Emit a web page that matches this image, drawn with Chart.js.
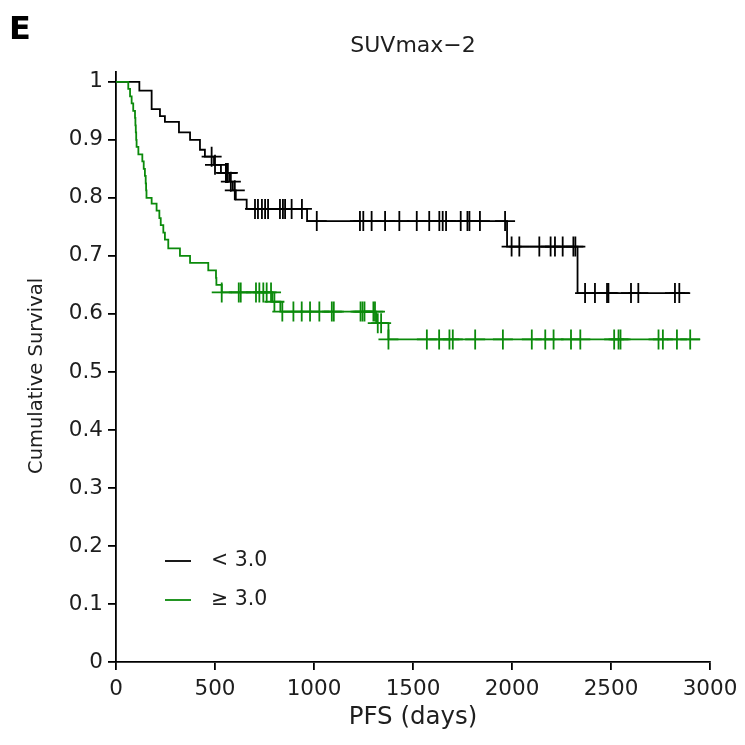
<!DOCTYPE html>
<html>
<head>
<meta charset="utf-8">
<script src="https://cdn.jsdelivr.net/npm/chart.js@4.4.1/dist/chart.umd.min.js"></script>
<style>
  html, body { margin: 0; padding: 0; background: #fff; }
  #wrap { width: 745px; height: 745px; }
</style>
</head>
<body>
<div id="wrap"><canvas id="kmChart" width="745" height="745"></canvas></div>
<script>
// panel text
const panelLetter = "E";
const chartTitle = "SUVmax\u22122";
const xTitle = "PFS (days)";
const yTitle = "Cumulative Survival";
const groupLabels = ["< 3.0", "\u2265 3.0"];

// axis ticks
const xTicks = [0, 500, 1000, 1500, 2000, 2500, 3000];
const yTicks = [0, 0.1, 0.2, 0.3, 0.4, 0.5, 0.6, 0.7, 0.8, 0.9, 1];
const yTickLabels = ["0", "0.1", "0.2", "0.3", "0.4", "0.5", "0.6", "0.7", "0.8", "0.9", "1"];

// SUVmax-2 < 3.0 (black): event times (days) and survival after each drop
const lowEventTimes = [118, 180, 222, 247, 318, 374, 424, 449, 495, 530, 575, 590, 605, 660, 965, 1975, 2331];
const lowEventSurv = [0.985, 0.953, 0.941, 0.931, 0.913, 0.9, 0.883, 0.871, 0.857, 0.843, 0.828, 0.813, 0.797, 0.781, 0.76, 0.716, 0.636];
const lowCensorTimes = [483, 500, 555, 560, 565, 580, 600, 702, 717, 737, 753, 768, 828, 843, 854, 887, 939,
  1014, 1232, 1249, 1291, 1359, 1431, 1519, 1582, 1633, 1650, 1667, 1741, 1775, 1785, 1838, 1965,
  1998, 2037, 2138, 2195, 2217, 2256, 2310, 2320, 2369, 2419, 2480, 2487, 2601, 2638, 2823, 2845];
const lowEndTime = 2900;

// SUVmax-2 >= 3.0 (green)
const highEventTimes = [62, 71, 79, 87, 96, 98, 100, 102, 104, 113, 133, 140, 146, 150, 152, 154, 180, 205, 219, 226,
  239, 247, 264, 323, 374, 466, 505, 507, 534, 790, 830, 1314, 1376];
const highEventSurv = [0.988, 0.975, 0.963, 0.95, 0.938, 0.925, 0.913, 0.9, 0.888, 0.875, 0.863, 0.85, 0.838, 0.825,
  0.813, 0.8, 0.79, 0.778, 0.765, 0.753, 0.74, 0.728, 0.713, 0.7, 0.688, 0.675, 0.662, 0.65, 0.637, 0.621, 0.604, 0.584, 0.556];
const highCensorTimes = [534, 620, 630, 707, 724, 744, 761, 783, 800, 840, 896, 938, 980, 1027, 1090, 1100,
  1235, 1245, 1255, 1300, 1308, 1322, 1339, 1376, 1570, 1632, 1684, 1701, 1814, 1954, 2100, 2168, 2210,
  2298, 2345, 2516, 2538, 2548, 2740, 2762, 2833, 2900];
const highEndTime = 2950;

const fontFamily = '"DejaVu Sans", sans-serif';
const textColor = "#1e1e1e";
const lowColor = "#000000";
const highColor = "#0b8a0b";

// KM value at time t (last drop at or before t)
const survivalAt = (times, surv, t) => {
  let s = 1;
  times.forEach((et, i) => {
    if (et <= t) s = surv[i];
  });
  return s;
};

const buildCurve = (times, surv, endTime) => {
  const pts = [{ x: 0, y: 1 }];
  times.forEach((t, i) => pts.push({ x: t, y: surv[i] }));
  pts.push({ x: endTime, y: surv[surv.length - 1] });
  return pts;
};

const buildCensors = (times, surv, censors) =>
  censors.map((t) => ({ x: t, y: survivalAt(times, surv, t) }));

const textPlugin = {
  id: "panelText",
  afterDraw(chart) {
    const { ctx, chartArea } = chart;
    const midX = (chartArea.left + chartArea.right) / 2;
    ctx.save();
    ctx.fillStyle = "#000";
    ctx.textBaseline = "middle";
    ctx.textAlign = "left";
    ctx.font = "bold 32px " + fontFamily;
    ctx.fillText(panelLetter, 9, 31);

    ctx.fillStyle = textColor;
    ctx.textAlign = "center";
    ctx.font = "22px " + fontFamily;
    ctx.fillText(chartTitle, midX, 46);

    ctx.font = "24.5px " + fontFamily;
    ctx.fillText(xTitle, midX, 718);

    const y0 = chart.scales.y.getPixelForValue(0);
    const y1 = chart.scales.y.getPixelForValue(1);
    ctx.save();
    ctx.translate(37, (y0 + y1) / 2 + 4);
    ctx.rotate(-Math.PI / 2);
    ctx.font = "19.5px " + fontFamily;
    ctx.fillText(yTitle, 0, 0);
    ctx.restore();

    // legend inside plot
    const rows = [
      { y: 561, ds: chart.data.datasets[0] },
      { y: 600, ds: chart.data.datasets[2] },
    ];
    rows.forEach((r) => {
      ctx.strokeStyle = r.ds.borderColor;
      ctx.lineWidth = 1.8;
      ctx.beginPath();
      ctx.moveTo(165, r.y);
      ctx.lineTo(191, r.y);
      ctx.stroke();
      ctx.fillStyle = textColor;
      ctx.textAlign = "left";
      ctx.font = "20.5px " + fontFamily;
      ctx.fillText(r.ds.label, 211, r.y);
    });
    ctx.restore();
  },
};

const ctx = document.getElementById("kmChart").getContext("2d");

new Chart(ctx, {
  type: "scatter",
  data: {
    datasets: [
      {
        label: groupLabels[0],
        data: buildCurve(lowEventTimes, lowEventSurv, lowEndTime),
        showLine: true,
        stepped: "before",
        borderColor: lowColor,
        borderWidth: 1.8,
        pointRadius: 0,
        order: 2,
      },
      {
        label: groupLabels[0] + " censored",
        data: buildCensors(lowEventTimes, lowEventSurv, lowCensorTimes),
        pointStyle: "cross",
        pointRadius: 10,
        borderColor: lowColor,
        borderWidth: 1.8,
        order: 2,
      },
      {
        label: groupLabels[1],
        data: buildCurve(highEventTimes, highEventSurv, highEndTime),
        showLine: true,
        stepped: "before",
        borderColor: highColor,
        borderWidth: 1.8,
        pointRadius: 0,
        order: 1,
      },
      {
        label: groupLabels[1] + " censored",
        data: buildCensors(highEventTimes, highEventSurv, highCensorTimes),
        pointStyle: "cross",
        pointRadius: 10,
        borderColor: highColor,
        borderWidth: 1.8,
        order: 1,
      },
    ],
  },
  options: {
    responsive: false,
    animation: false,
    layout: { padding: { top: 72, right: 35, left: 0, bottom: 0 } },
    plugins: {
      legend: { display: false },
      tooltip: { enabled: false },
      title: { display: false },
    },
    scales: {
      x: {
        type: "linear",
        min: 0,
        max: 3000,
        afterFit: (scale) => { scale.height = 83; },
        afterBuildTicks: (scale) => { scale.ticks = xTicks.map((v) => ({ value: v })); },
        ticks: {
          color: textColor,
          padding: 7,
          maxRotation: 0,
          font: { family: fontFamily, size: 21.5 },
          callback: (v) => String(v),
        },
        grid: { drawOnChartArea: false, tickLength: 8, color: "#000", lineWidth: 1.8 },
        border: { color: "#000", width: 1.8 },
      },
      y: {
        type: "linear",
        min: 0,
        max: 1.017,
        afterFit: (scale) => { scale.width = 116; },
        afterBuildTicks: (scale) => { scale.ticks = yTicks.map((v) => ({ value: v })); },
        ticks: {
          color: textColor,
          padding: 5,
          font: { family: fontFamily, size: 21.5 },
          callback: (v) => yTickLabels[yTicks.indexOf(v)],
        },
        grid: { drawOnChartArea: false, tickLength: 8, color: "#000", lineWidth: 1.8 },
        border: { color: "#000", width: 1.8 },
      },
    },
  },
  plugins: [textPlugin],
});
</script>
</body>
</html>
